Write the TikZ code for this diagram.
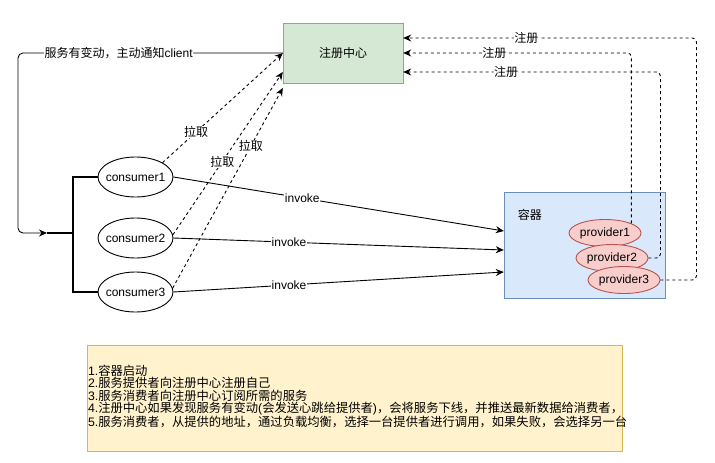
\documentclass[tikz,border=0pt]{standalone}
\usepackage{fontspec}
\setmainfont{Liberation Sans}
\newfontfamily\cjk{Noto Sans CJK SC}
\usepackage{xcolor}
\usetikzlibrary{arrows.meta,calc,shapes.geometric}
\definecolor{regfill}{HTML}{D5E8D4}\definecolor{regline}{HTML}{82B366}
\definecolor{boxfill}{HTML}{DAE8FC}\definecolor{boxline}{HTML}{6C8EBF}
\definecolor{provfill}{HTML}{F8CECC}\definecolor{provline}{HTML}{B85450}
\definecolor{notefill}{HTML}{FFF2CC}\definecolor{noteline}{HTML}{D6B656}

\begin{document}
\begin{tikzpicture}[x=1pt,y=-1pt,every node/.style={font=\fontsize{12}{12.3}\selectfont},
  arr/.style={-{Stealth[length=8pt,width=7pt]},line width=0.9pt},
  pull/.style={arr,dash pattern=on 3pt off 3pt},
  lbl/.style={fill=white,inner sep=0.5pt},
  consumer/.style={ellipse,draw,line width=0.9pt,fill=white,minimum width=75pt,minimum height=40pt,inner sep=0pt,inner xsep=-4pt},
  provider/.style={ellipse,draw=provline,fill=provfill,line width=0.9pt,minimum width=72pt,minimum height=27pt,inner sep=0pt}]
  \useasboundingbox (0,0) rectangle (715,463);
  \node[rectangle,draw=regline,fill=regfill,minimum width=120pt,minimum height=60pt] (reg) at (343,53) {{\cjk 注册中心}};
  \node[rectangle,draw=boxline,fill=boxfill,minimum width=161pt,minimum height=106pt] (box) at (584.5,245) {};
  \node (boxname) at ($(box.north west)+(26,23)$) {{\cjk 容器}};
  \node[provider] (p1) at (605,233) {provider1};
  \node[provider] (p2) at (612,258) {provider2};
  \node[provider] (p3) at (624,280) {provider3};
  \foreach \i/\y in {1/177,2/238,3/292} \node[consumer] (c\i) at (135.5,\y) {consumer\i};
  \coordinate (fork) at (47,233); \coordinate (spine) at (73,233); \coordinate (loop) at (18,233);
  % registry tells the consumers
  \draw[arr,rounded corners=5pt] (reg.west) -| node[lbl,pos=.31] {{\cjk 服务有变动，主动通知}client} (loop) -- (fork);
  \draw[line width=2pt] (fork) -- (spine) (c1.west) -| (spine) |- (c3.west);
  % consumers pull from the registry
  \draw[pull] (c1.28) -- node[lbl,pos=.28] {{\cjk 拉取}} (reg.west);
  \draw[pull] (c2.5) -- node[lbl,pos=.45] {{\cjk 拉取}} ($(reg.west)+(0,19)$);
  \draw[pull] (c3.6) -- node[lbl,pos=.71] {{\cjk 拉取}} ($(reg.west)+(0,35)$);
  \draw[arr] (c1.east) -- node[lbl,pos=.39] {invoke} ($(box.west)+(0,-14)$);
  \draw[arr] (c2.east) -- node[lbl,pos=.35] {invoke} ($(box.west)+(0,5)$);
  \draw[arr] (c3.east) -- node[lbl,pos=.35] {invoke} ($(box.west)+(0,27)$);
  % providers register
  \draw[pull,rounded corners=4pt] (p1.20) |- node[lbl,pos=.8] {{\cjk 注册}} (reg.east);
  \draw[pull,rounded corners=4pt] (p2.east) -- ++(12,0) |- node[lbl,pos=.8] {{\cjk 注册}} ($(reg.east)+(0,19)$);
  \draw[pull,rounded corners=4pt] (p3.east) -- ++(36,0) |- node[lbl,pos=.79] {{\cjk 注册}} ($(reg.east)+(0,-15)$);
  \node[rectangle,draw=noteline,fill=notefill,minimum width=535pt,minimum height=106pt] (notes) at (354.5,398) {};
  \node[anchor=west,align=left,inner sep=1pt,font=\fontsize{12.3}{12.3}\selectfont] (steps) at ($(notes.west)+(0,-1.5)$) {1.{\cjk 容器启动}\\2.{\cjk 服务提供者向注册中心注册自己}\\3.{\cjk 服务消费者向注册中心订阅所需的服务}\\4.{\cjk 注册中心如果发现服务有变动}({\cjk 会发送心跳给提供者}){\cjk ，会将服务下线，并推送最新数据给消费者，}\\5.{\cjk 服务消费者，从提供的地址，通过负载均衡，选择一台提供者进行调用，如果失败，会选择另一台}};
\end{tikzpicture}
\end{document}
